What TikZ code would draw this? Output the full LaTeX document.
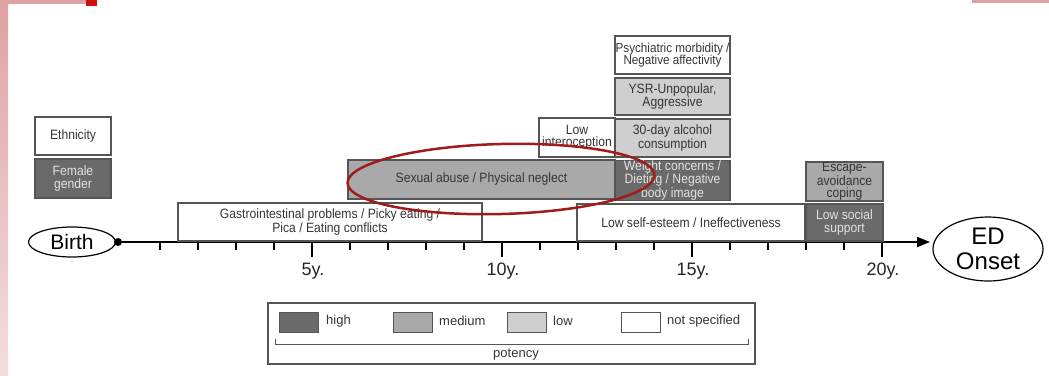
\documentclass[tikz,border=0pt]{standalone}
\usepackage{fontspec}
\setmainfont{Liberation Sans}
\newfontfamily\bxfont{Liberation Sans}[FakeStretch=0.9]
\usetikzlibrary{shapes.geometric,arrows.meta}

\definecolor{pinkedge}{HTML}{DFA2A2}
\definecolor{pinklow}{HTML}{F3DEDE}
\definecolor{redmark}{HTML}{CC1010}
\definecolor{ringred}{HTML}{A01C1C}
\definecolor{boxline}{HTML}{555555}
\definecolor{highfill}{HTML}{6A6A6A}
\definecolor{medfill}{HTML}{A9A9A9}
\definecolor{lowfill}{HTML}{CFCFCF}
\definecolor{darktext}{HTML}{353535}
\definecolor{lighttext}{HTML}{E2E2E2}

\tikzset{
  factor/.style={draw=boxline, line width=1.1pt, rectangle, inner sep=0pt,
    align=center, font=\bxfont\fontsize{13.5}{12.5}\selectfont, text=darktext},
  nsp/.style={factor, fill=white},
  lowp/.style={factor, fill=lowfill},
  medp/.style={factor, fill=medfill},
  highp/.style={factor, fill=highfill, text=lighttext},
  endpoint/.style={draw, ellipse, line width=1.2pt, inner sep=0pt, align=center},
  axisline/.style={line width=2pt, -{Triangle[length=13pt,width=10pt]}},
  swatch/.style={draw=boxline, line width=1pt, minimum width=39pt, minimum height=20pt, inner sep=0pt},
  legtext/.style={anchor=west, font=\fontsize{13}{13}\selectfont, text=darktext, inner sep=0pt},
  yearlab/.style={font=\fontsize{18}{18}\selectfont, text=black!85}
}

\begin{document}
\begin{tikzpicture}[x=1pt, y=-1pt]
\useasboundingbox (0,0) rectangle (1049,375);
\fill[white] (0,0) rectangle (1049,375);

% slide frame remnants
\shade[top color=pinkedge, bottom color=pinklow] (0,0) rectangle (8,375);
\fill[pinkedge] (0,0) rectangle (92,4);
\fill[redmark] (86,0) rectangle (97,6);
\fill[pinkedge] (972,0) rectangle (1049,3);

% time axis
\node[endpoint, minimum width=87pt, minimum height=30pt,
      font=\fontsize{21}{21}\selectfont] (birth) at (72,242) {Birth};
\node[circle, fill=black, inner sep=0pt, minimum size=8pt] (start) at (118,242) {};
\coordinate (tip) at (930,242);
\node[endpoint, minimum width=110pt, minimum height=64pt,
      font=\fontsize{24}{25}\selectfont] (onset) at (988,249) {ED\\Onset};
\draw[axisline] (start) -- (tip);

\foreach \yr in {1,...,20} {
  \draw[line width=1.3pt] (122+38*\yr,242) -- (122+38*\yr,250);
}
\foreach \yr in {5,10,15,20} {
  \draw[line width=2pt] (122+38*\yr,242) -- (122+38*\yr,257);
  \node[yearlab] (lab\yr) at (123+38*\yr,271) {\yr y.};
}

% risk factors
\node[nsp,  minimum width=76pt,  minimum height=38pt] (ethn)   at (73,136)    {Ethnicity};
\node[highp,minimum width=76pt,  minimum height=39pt] (female) at (73,178.5)  {Female\\gender};
\node[nsp,  minimum width=304pt, minimum height=38pt] (gastro) at (330,222)   {Gastrointestinal problems / Picky eating /\\Pica / Eating conflicts};
\node[medp, minimum width=267pt, minimum height=39pt] (abuse)  at (481.5,179.5) {Sexual abuse / Physical neglect};
\node[nsp,  minimum width=76pt,  minimum height=39pt] (intero) at (577,137.5) {Low\\interoception};
\node[nsp,  minimum width=115pt, minimum height=38pt,
      font=\bxfont\fontsize{13}{12.5}\selectfont] (psych) at (672.5,55) {Psychiatric morbidity /\\Negative affectivity};
\node[lowp, minimum width=115pt, minimum height=37pt] (ysr)    at (672.5,96.5) {YSR-Unpopular,\\Aggressive};
\node[lowp, minimum width=115pt, minimum height=38pt] (alc)    at (672.5,138) {30-day alcohol\\consumption};
\node[highp,minimum width=115pt, minimum height=39pt,
      font=\bxfont\fontsize{13.5}{12}\selectfont] (weight) at (672.5,180.5) {Weight concerns /\\Dieting / Negative\\body image};
\node[nsp,  minimum width=228pt, minimum height=37pt] (esteem) at (691,222.5) {Low self-esteem / Ineffectiveness};
\node[highp,minimum width=77pt,  minimum height=37pt] (social) at (844.5,222.5) {Low social\\support};
\node[medp, minimum width=77pt,  minimum height=39pt,
      font=\bxfont\fontsize{13.5}{12}\selectfont] (escape) at (844.5,181.5) {Escape-\\avoidance\\coping};

% highlight ring
\node[draw=ringred, line width=2.5pt, ellipse, minimum width=307pt, minimum height=70pt,
      inner sep=0pt, rotate=1.5] (ring) at (501,179) {};

% legend
\draw[boxline, line width=1.1pt] (268,303) rectangle (755,364);
\node[swatch, fill=highfill] (sw1) at (298.5,322) {};
\node[legtext] (lt1) at (326,321) {high};
\node[swatch, fill=medfill] (sw2) at (412.5,322) {};
\node[legtext] (lt2) at (439,321) {medium};
\node[swatch, fill=lowfill] (sw3) at (526.5,322) {};
\node[legtext] (lt3) at (553,321) {low};
\node[swatch, fill=white] (sw4) at (640.5,322) {};
\node[legtext] (lt4) at (667,321) {not specified};
\draw[boxline, line width=1pt] (275,339) -- (275,344) -- (748,344) -- (748,339);
\node[font=\fontsize{13}{13}\selectfont, text=darktext] (pot) at (516,355) {potency};
\end{tikzpicture}
\end{document}
